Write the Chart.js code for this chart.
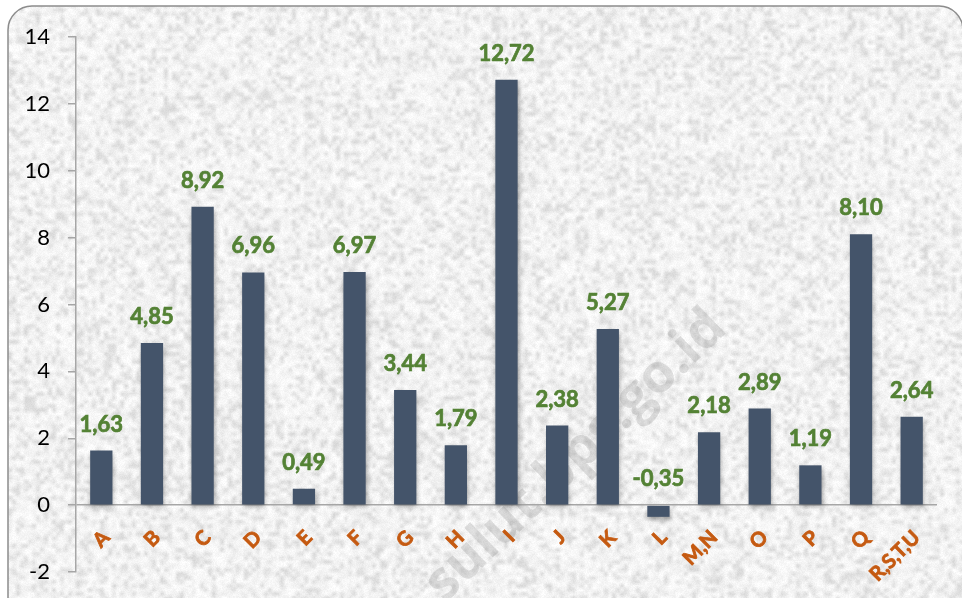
<!DOCTYPE html>
<html>
<head>
<meta charset="utf-8">
<script src="https://cdn.jsdelivr.net/npm/chart.js@4.4.1/dist/chart.umd.min.js"></script>
<style>
  html, body { margin: 0; padding: 0; background: #ffffff; }
  #wrap { width: 962px; height: 598px; position: relative; }
</style>
</head>
<body>
<div id="wrap"><canvas id="chart" width="962" height="598"></canvas></div>
<script>
// Sectors (KBLI categories) and growth values (%)
const categories = ['A', 'B', 'C', 'D', 'E', 'F', 'G', 'H', 'I', 'J', 'K', 'L', 'M,N', 'O', 'P', 'Q', 'R,S,T,U'];
const growth = [1.63, 4.85, 8.92, 6.96, 0.49, 6.97, 3.44, 1.79, 12.72, 2.38, 5.27, -0.35, 2.18, 2.89, 1.19, 8.10, 2.64];
const yTicks = [-2, 0, 2, 4, 6, 8, 10, 12, 14];

const BAR = '#44546A';
const VALUE_GREEN = '#548235';
const CAT_ORANGE = '#C55A11';
const AXIS_GRAY = '#A6A6A6';

// Deterministic hash noise for the stone-like panel texture
function hashNoise(x, y) {
  let h = (x * 374761393 + y * 668265263) | 0;
  h = (h ^ (h >>> 13)) * 1274126177 | 0;
  h = h ^ (h >>> 16);
  return ((h >>> 0) % 1000) / 1000;
}

function makeTexture(w, h) {
  const big = document.createElement('canvas');
  big.width = w; big.height = h;
  const bctx = big.getContext('2d');
  bctx.fillStyle = '#eeeeee';
  bctx.fillRect(0, 0, w, h);
  // coarse blotches
  const cs = 4;
  const coarse = document.createElement('canvas');
  coarse.width = Math.ceil(w / cs); coarse.height = Math.ceil(h / cs);
  const cctx = coarse.getContext('2d');
  const img = cctx.createImageData(coarse.width, coarse.height);
  for (let y = 0; y < coarse.height; y++) {
    for (let x = 0; x < coarse.width; x++) {
      const n = hashNoise(x, y);
      const v = Math.round(n < 0.25 ? 215 + n * 60 : 232 + n * 22);
      const i = (y * coarse.width + x) * 4;
      img.data[i] = v; img.data[i + 1] = v; img.data[i + 2] = v; img.data[i + 3] = 255;
    }
  }
  cctx.putImageData(img, 0, 0);
  bctx.imageSmoothingEnabled = true;
  bctx.drawImage(coarse, 0, 0, coarse.width * cs, coarse.height * cs);
  // fine grain
  const fine = bctx.getImageData(0, 0, w, h);
  for (let y = 0; y < h; y++) {
    for (let x = 0; x < w; x++) {
      const i = (y * w + x) * 4;
      const d = (hashNoise(x + 7919, y + 104729) - 0.5) * 10;
      fine.data[i] = Math.min(255, fine.data[i] + d);
      fine.data[i + 1] = Math.min(255, fine.data[i + 1] + d);
      fine.data[i + 2] = Math.min(255, fine.data[i + 2] + d);
    }
  }
  bctx.putImageData(fine, 0, 0);
  return big;
}

function roundRectPath(ctx, x, y, w, h, r) {
  ctx.beginPath();
  ctx.moveTo(x + r, y);
  ctx.lineTo(x + w - r, y);
  ctx.arcTo(x + w, y, x + w, y + r, r);
  ctx.lineTo(x + w, y + h - r);
  ctx.arcTo(x + w, y + h, x + w - r, y + h, r);
  ctx.lineTo(x + r, y + h);
  ctx.arcTo(x, y + h, x, y + h - r, r);
  ctx.lineTo(x, y + r);
  ctx.arcTo(x, y, x + r, y, r);
  ctx.closePath();
}

// Rounded textured panel behind the plot
const panelPlugin = {
  id: 'panel',
  beforeDraw(chart) {
    const ctx = chart.ctx;
    const W = chart.width, H = chart.height;
    if (!chart.$tex) chart.$tex = makeTexture(W, H);
    ctx.save();
    ctx.fillStyle = '#ffffff';
    ctx.fillRect(0, 0, W, H);
    roundRectPath(ctx, 8, 6, 955, 620, 24);
    ctx.save();
    ctx.clip();
    ctx.drawImage(chart.$tex, 0, 0);
    ctx.restore();
    roundRectPath(ctx, 8, 6, 955, 620, 24);
    ctx.strokeStyle = '#8c8c8c';
    ctx.lineWidth = 1.5;
    ctx.stroke();
    // site watermark
    ctx.translate(576, 456);
    ctx.rotate(-Math.PI / 4.1);
    ctx.font = 'bold 54px "Open Sans", sans-serif';
    ctx.textAlign = 'center';
    ctx.textBaseline = 'middle';
    ctx.fillStyle = 'rgba(110,110,110,0.2)';
    ctx.fillText('sulut.bps.go.id', 0, 0);
    ctx.restore();
  }
};

// Soft shadow under the columns
const shadowPlugin = {
  id: 'barShadow',
  beforeDatasetsDraw(chart) {
    const ctx = chart.ctx;
    ctx.save();
    ctx.shadowColor = 'rgba(0,0,0,0.35)';
    ctx.shadowBlur = 5;
    ctx.shadowOffsetX = 1;
    ctx.shadowOffsetY = 3;
  },
  afterDatasetsDraw(chart) {
    chart.ctx.restore();
  }
};

// Value labels above columns and rotated category names under the zero line
const labelPlugin = {
  id: 'labels',
  afterDatasetsDraw(chart) {
    const ctx = chart.ctx;
    const xs = chart.scales.x, ys = chart.scales.y;
    const zeroY = ys.getPixelForValue(0);
    ctx.save();
    ctx.font = 'bold 22px Lato, sans-serif';
    ctx.fillStyle = VALUE_GREEN;
    ctx.strokeStyle = VALUE_GREEN;
    ctx.lineWidth = 0.7;
    ctx.textAlign = 'center';
    ctx.textBaseline = 'middle';
    growth.forEach((v, i) => {
      const x = xs.getPixelForValue(i);
      const top = ys.getPixelForValue(Math.max(v, 0));
      const txt = v.toFixed(2).replace('.', ',');
      ctx.fillText(txt, x, top - 26);
      ctx.strokeText(txt, x, top - 26);
    });
    ctx.font = 'bold 20px Lato, sans-serif';
    ctx.fillStyle = CAT_ORANGE;
    ctx.strokeStyle = CAT_ORANGE;
    ctx.lineWidth = 0.8;
    ctx.textAlign = 'right';
    categories.forEach((c, i) => {
      const x = xs.getPixelForValue(i);
      ctx.save();
      ctx.translate(x + 5, zeroY + 29);
      ctx.rotate(-Math.PI / 4);
      ctx.fillText(c, 0, 0);
      ctx.strokeText(c, 0, 0);
      ctx.restore();
    });
    ctx.restore();
  }
};

new Chart(document.getElementById('chart'), {
  type: 'bar',
  data: {
    labels: categories,
    datasets: [{
      data: growth,
      backgroundColor: BAR,
      borderWidth: 0,
      barPercentage: 0.44,
      categoryPercentage: 1.0
    }]
  },
  options: {
    responsive: false,
    animation: false,
    devicePixelRatio: 1,
    layout: { padding: { top: 37, bottom: 26, left: 0, right: 25 } },
    plugins: {
      legend: { display: false },
      tooltip: { enabled: false }
    },
    scales: {
      x: {
        display: false,
        offset: true
      },
      y: {
        min: -2,
        max: 14,
        afterFit(scale) {
          scale.width = 76;
          scale.paddingTop = 0;
          scale.paddingBottom = 0;
        },
        afterBuildTicks(scale) { scale.ticks = yTicks.map(v => ({ value: v })); },
        ticks: {
          padding: 18,
          color: '#000000',
          font: { family: 'Lato', size: 22 },
          callback: v => String(v)
        },
        grid: {
          drawOnChartArea: true,
          color: c => (c.tick && c.tick.value === 0 ? AXIS_GRAY : 'rgba(0,0,0,0)'),
          lineWidth: 1.5,
          tickLength: 8,
          tickColor: AXIS_GRAY,
          tickWidth: 1.5
        },
        border: { display: true, color: AXIS_GRAY, width: 1.5 }
      }
    }
  },
  plugins: [panelPlugin, shadowPlugin, labelPlugin]
});
</script>
</body>
</html>
